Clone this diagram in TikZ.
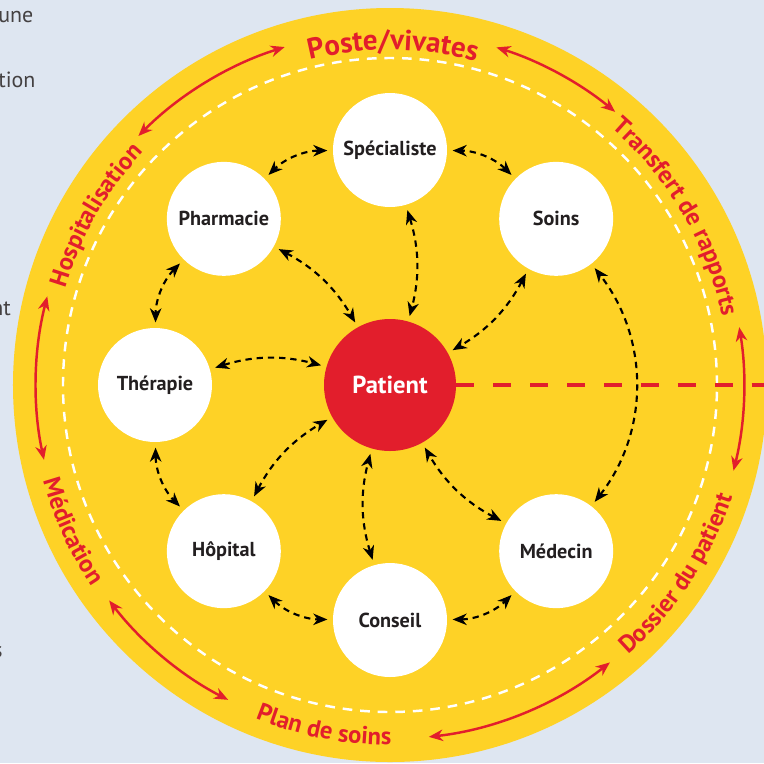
\documentclass[tikz,border=0pt]{standalone}
\usepackage{fontspec}
\setmainfont{PT Sans}
\usetikzlibrary{arrows.meta,decorations.text}
\definecolor{paleblue}{RGB}{222,230,241}
\definecolor{sunflower}{RGB}{254,210,38}
\definecolor{cardinal}{RGB}{226,30,44}
\definecolor{charcoal}{RGB}{35,31,32}
\newcommand{\satfont}{\fontsize{11.5}{13}\selectfont\bfseries}
\newcommand{\ringfont}{\fontsize{14}{17}\selectfont\bfseries}
\newcommand{\topfont}{\fontsize{16.5}{20}\selectfont\bfseries}
\newcommand{\sidefont}{\fontsize{12.5}{15}\selectfont}
\tikzset{
  satellite/.style={circle, fill=white, minimum size=2.28cm, inner sep=0pt, text=charcoal, font=\satfont},
  fragment/.style={anchor=base west, inner sep=0pt, text=charcoal!85, font=\sidefont},
  duplex/.style={<->, >={Stealth[length=8pt,width=6.5pt,inset=2.5pt]}, line width=1.2pt, dash pattern=on 3.6pt off 2.8pt, shorten <=3pt, shorten >=3pt},
  ringarrow/.style={<->, >={Stealth[length=8pt,width=6.5pt,inset=2.5pt]}, draw=cardinal, line width=1.4pt},
  ringlabel/.style={decorate, decoration={text along path, text align=center, text color=cardinal, text={#1}}}
}
\begin{document}
\begin{tikzpicture}
\useasboundingbox (-7.80,-7.56) rectangle (7.48,7.70);
\clip              (-7.80,-7.56) rectangle (7.48,7.70);
\fill[paleblue]    (-7.80,-7.56) rectangle (7.48,7.70);
\fill[sunflower]   (0,0) circle (7.54);
\draw[white, line width=1.4pt, dash pattern=on 5.5pt off 4.5pt] (0,0) circle (6.54);

\node[fragment] (une)  at (-7.84, 7.26) {une};
\node[fragment] (tion) at (-7.84, 5.96) {tion};
\node[fragment] (nt)   at (-7.98, 1.40) {nt};
\node[fragment] (s)    at (-7.94,-5.44) {s};

\path[ringlabel={|\topfont|Poste/vivates}]          (119.5:6.70) arc[start angle=119.5, end angle=59.5,  radius=6.70];
\path[ringlabel={|\ringfont|Transfert de rapports}] ( 65.5:6.78) arc[start angle=65.5,  end angle=-4.5,  radius=6.78];
\path[ringlabel={|\ringfont|Hospitalisation}]       (185.0:6.78) arc[start angle=185,   end angle=115,   radius=6.78];
\path[ringlabel={|\ringfont|Dossier du patient}]    (-68.3:7.20) arc[start angle=-68.3, end angle=1.7,   radius=7.20];
\path[ringlabel={|\ringfont|Plan de soins}]         (-135.9:7.20) arc[start angle=-135.9, end angle=-65.9, radius=7.20];
\path[ringlabel={|\ringfont|Médication}]            (169.7:7.20) arc[start angle=169.7, end angle=239.7, radius=7.20];

\draw[ringarrow] ( 135.3:7.08) arc[start angle=135.3,  end angle=107.3,  radius=7.08];
\draw[ringarrow] (  72.5:7.08) arc[start angle=72.5,   end angle=50.5,   radius=7.08];
\draw[ringarrow] (   9.4:7.08) arc[start angle=9.4,    end angle=-14,    radius=7.08];
\draw[ringarrow] ( -51.6:7.08) arc[start angle=-51.6,  end angle=-83.7,  radius=7.08];
\draw[ringarrow] (-117.2:7.08) arc[start angle=-117.2, end angle=-142.5, radius=7.08];
\draw[ringarrow] (-167.8:7.08) arc[start angle=-167.8, end angle=-194.5, radius=7.08];

\node[satellite] (soins)       at ( 45:4.70) {Soins};
\node[satellite] (specialiste) at ( 90:4.70) {Spécialiste};
\node[satellite] (pharmacie)   at (135:4.70) {Pharmacie};
\node[satellite] (therapie)    at (180:4.70) {Thérapie};
\node[satellite] (hopital)     at (225:4.70) {Hôpital};
\node[satellite] (conseil)     at (270:4.70) {Conseil};
\node[satellite] (medecin)     at (315:4.70) {Médecin};
\node[circle, fill=cardinal, minimum size=2.64cm, inner sep=0pt, text=white, font=\fontsize{14}{16}\selectfont\bfseries] (patient) at (0,0) {Patient};

\coordinate (rimeast) at (7.60,0);
\draw[cardinal, line width=2.3pt, dash pattern=on 10.2pt off 10.8pt] (patient.east) -- (rimeast);

\draw[duplex] (soins)       to[bend right=22] (specialiste);
\draw[duplex] (specialiste) to[bend right=22] (pharmacie);
\draw[duplex] (pharmacie)   to[bend right=22] (therapie);
\draw[duplex] (therapie)    to[bend right=22] (hopital);
\draw[duplex] (hopital)     to[bend right=22] (conseil);
\draw[duplex] (conseil)     to[bend right=22] (medecin);
\draw[duplex] (medecin)     to[bend right=38] (soins);

\draw[duplex] (soins)       to[bend left=16] (patient);
\draw[duplex] (specialiste) to[bend left=16] (patient);
\draw[duplex] (pharmacie)   to[bend left=16] (patient);
\draw[duplex] (therapie)    to[bend left=16] (patient);
\draw[duplex] (hopital)     to[bend left=16] (patient);
\draw[duplex] (conseil)     to[bend left=16] (patient);
\draw[duplex] (medecin)     to[bend left=16] (patient);
\end{tikzpicture}
\end{document}
